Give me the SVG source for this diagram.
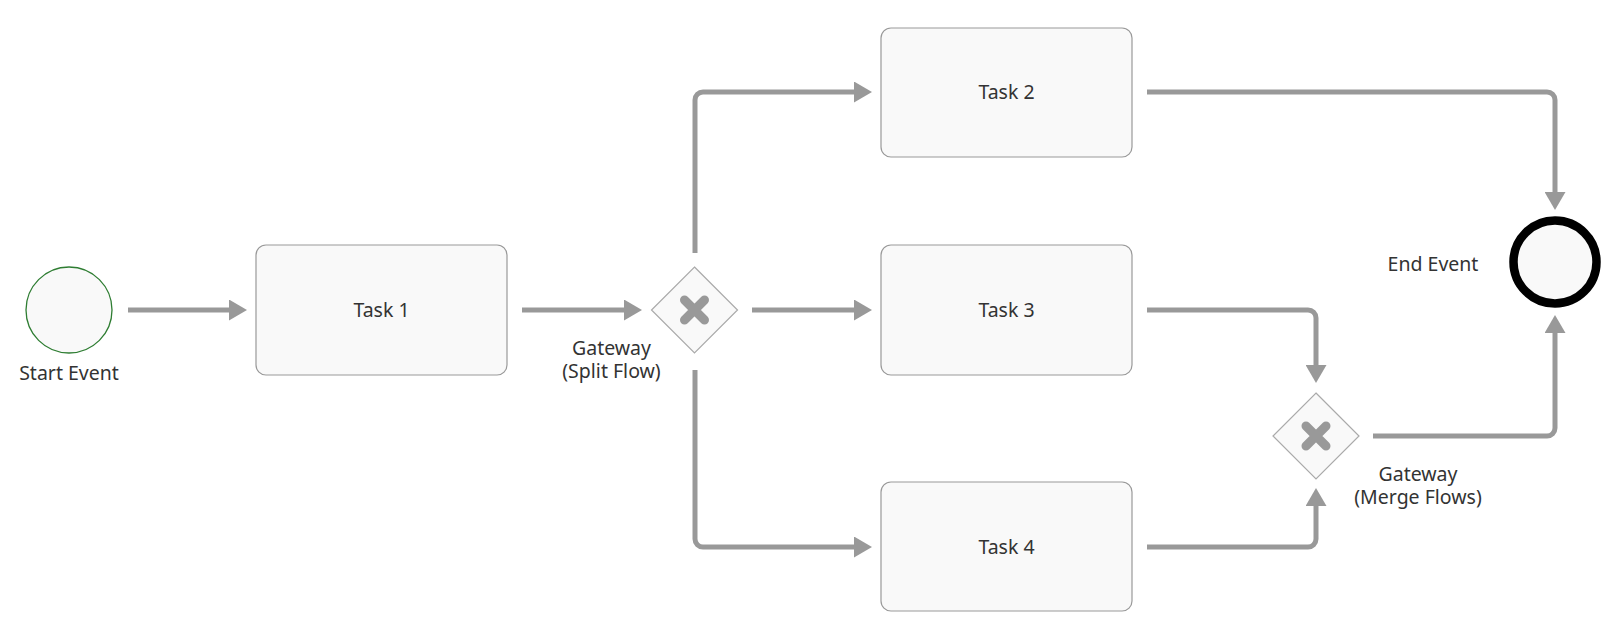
<svg xmlns="http://www.w3.org/2000/svg" width="1619" height="636" viewBox="0 0 1619 636">
<style>
.task{fill:#f9f9f9;stroke:#999;stroke-width:1.2}
.gw{fill:#f9f9f9;stroke:#aaa;stroke-width:1.2}
.x{stroke:#999;stroke-width:9;stroke-linecap:round;fill:none}
.lbl{font-family:"Noto Sans","Open Sans",sans-serif;font-size:19.5px;fill:#333;text-anchor:middle}
.flow{fill:none;stroke:#999;stroke-width:5;marker-end:url(#ah)}
</style>
<defs>
<marker id="ah" markerUnits="userSpaceOnUse" markerWidth="18" markerHeight="21" viewBox="0 0 18 21" refX="0" refY="10.5" orient="auto">
<path d="M0,0 L18,10.5 L0,21 Z" fill="#999"/>
</marker>
</defs>
<rect width="1619" height="636" fill="#fff"/>
<g id="connectors">
<path class="flow" d="M128,310 H229"/>
<path class="flow" d="M522,310 H624"/>
<path class="flow" d="M695,253 V100 A8,8 0 0 1 703,92 H854"/>
<path class="flow" d="M752,310 H854"/>
<path class="flow" d="M695,370 V539 A8,8 0 0 0 703,547 H854"/>
<path class="flow" d="M1147,92 H1547 A8,8 0 0 1 1555,100 V192"/>
<path class="flow" d="M1147,310 H1308 A8,8 0 0 1 1316,318 V365"/>
<path class="flow" d="M1147,547 H1308 A8,8 0 0 0 1316,539 V506"/>
<path class="flow" d="M1373,436 H1547 A8,8 0 0 0 1555,428 V333"/>
</g>
<g id="start">
<circle cx="69" cy="310" r="43" fill="#f9f9f9" stroke="#2e7d32" stroke-width="1.3"/>
<text class="lbl" x="69" y="380">Start Event</text>
</g>
<g id="task1">
<rect class="task" x="256" y="245" width="251" height="130" rx="10"/>
<text class="lbl" x="381.5" y="317">Task 1</text>
</g>
<g id="split">
<path class="gw" d="M694.5,267 L737.5,310 L694.5,353 L651.5,310 Z"/>
<path class="x" d="M684.5,300 L704.5,320 M704.5,300 L684.5,320"/>
<text class="lbl" x="611.5" y="355">Gateway<tspan x="611.5" dy="23">(Split Flow)</tspan></text>
</g>
<g id="task2">
<rect class="task" x="881" y="28" width="251" height="129" rx="10"/>
<text class="lbl" x="1006.5" y="99">Task 2</text>
</g>
<g id="task3">
<rect class="task" x="881" y="245" width="251" height="130" rx="10"/>
<text class="lbl" x="1006.5" y="317">Task 3</text>
</g>
<g id="task4">
<rect class="task" x="881" y="482" width="251" height="129" rx="10"/>
<text class="lbl" x="1006.5" y="554">Task 4</text>
</g>
<g id="merge">
<path class="gw" d="M1316,393 L1359,436 L1316,479 L1273,436 Z"/>
<path class="x" d="M1306,426 L1326,446 M1326,426 L1306,446"/>
<text class="lbl" x="1418" y="481">Gateway<tspan x="1418" dy="23">(Merge Flows)</tspan></text>
</g>
<g id="end">
<circle cx="1555" cy="262" r="41.5" fill="#f9f9f9" stroke="#000" stroke-width="8.5"/>
<text class="lbl" x="1433" y="271">End Event</text>
</g>
</svg>
